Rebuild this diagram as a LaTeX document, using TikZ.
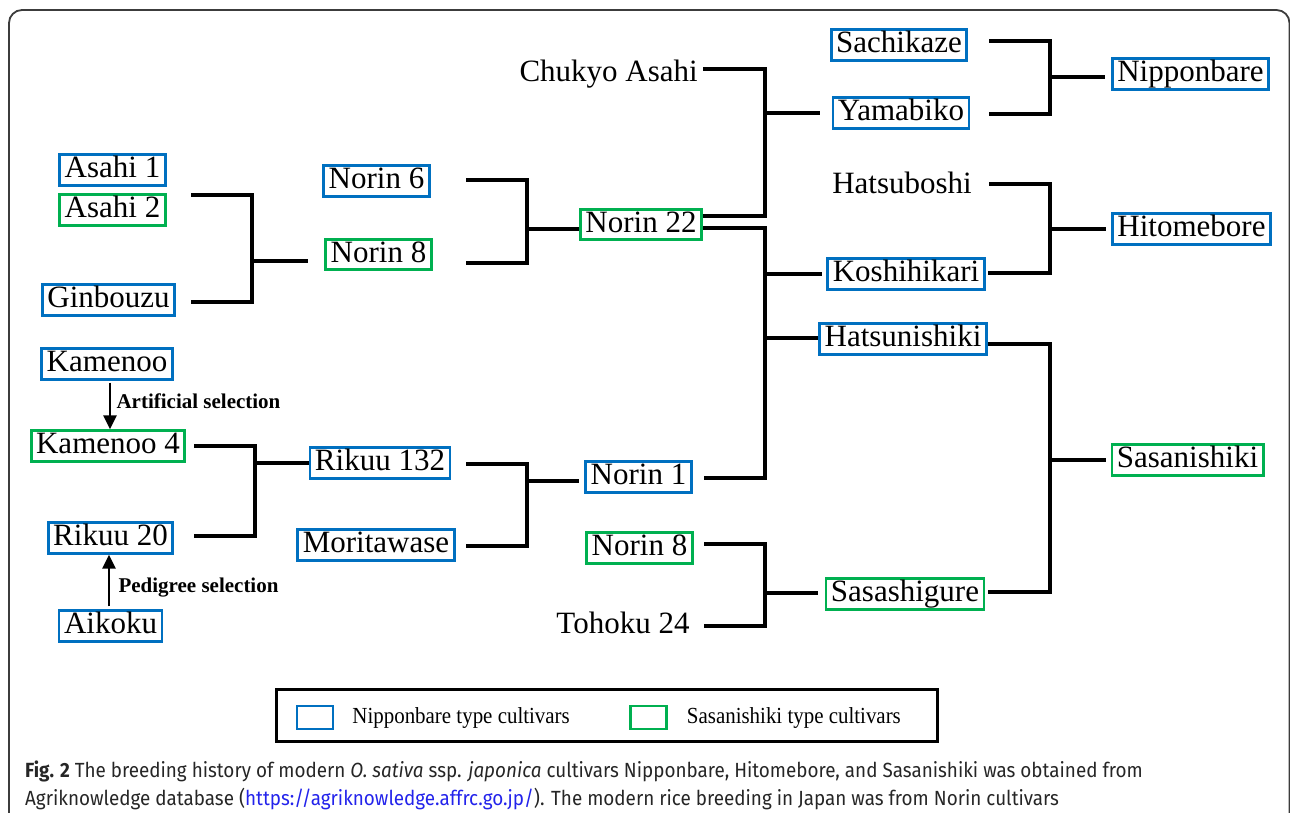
\documentclass[tikz,border=0pt]{standalone}
\usepackage{fontspec}
\setmainfont{Liberation Serif}
\newfontfamily\captionfont{Fira Sans}
\usetikzlibrary{arrows.meta,positioning}
\definecolor{nip blue}{RGB}{0,112,192}
\definecolor{sas green}{RGB}{0,176,80}
\definecolor{url blue}{RGB}{35,35,235}
\definecolor{frame gray}{RGB}{60,60,60}
\colorlet{caption text}{black!85}
\def\namefont{\fontsize{31}{36}\selectfont}
\def\notefont{\fontsize{21}{24}\selectfont}
\def\keyfont{\fontsize{23}{26}\selectfont}
\def\capfont{\captionfont\fontsize{20.5}{24}\selectfont}
\tikzset{cultivar/.style={inner xsep=5pt, inner ysep=1pt, text height=22pt, text depth=6.5pt, font=\namefont},
    nip/.style={cultivar, draw=nip blue, line width=2.8pt},
    sas/.style={cultivar, draw=sas green, line width=2.8pt},
    pedline/.style={draw=black, line width=3.1pt},
    selarrow/.style={line width=2.6pt, -{Triangle[width=13pt,length=14pt]}},
    keybox/.style={line width=2.5pt, minimum width=36pt, minimum height=23pt, inner sep=0pt},
    captext/.style={font=\capfont, text=caption text, anchor=base west, inner sep=0pt, xscale=0.92}}

\begin{document}
\begin{tikzpicture}[x=1pt, y=-1pt]
    \clip (0,0) rectangle (1290,812);
    \draw[frame gray, line width=1.8pt, rounded corners=13pt] (9,10) rectangle (1289.5,860);

    % first generation
    \node[nip] (asahiA)   at (112.5,170) {Asahi 1};
    \node[sas] (asahiB)   at (112.5,210) {Asahi 2};
    \node[nip] (ginbouzu) at (108.5,300) {Ginbouzu};
    \node[nip] (kamenoo)  at (107,364)   {Kamenoo};
    \node[sas] (kamenooD) at (108,446)   {Kamenoo 4};
    \node[nip] (rikuuTw)  at (110.5,538) {Rikuu 20};
    \node[nip] (aikoku)   at (110.5,626) {Aikoku};

    % second and third generation
    \node[nip] (norinF)     at (376.5,181) {Norin 6};
    \node[sas] (norinE)     at (378.5,254.5) {Norin 8};
    \node[nip] (rikuuOTT)   at (380,463)   {Rikuu 132};
    \node[nip] (moritawase) at (376,545)   {Moritawase};
    \node[sas] (norinTT)    at (641,224.5) {Norin 22};
    \node[nip] (norinA)     at (638.5,477) {Norin 1};
    \node[sas] (norinEb)    at (639.5,548) {Norin 8};
    \node[cultivar, anchor=east] (chukyo) at (703,74) {Chukyo Asahi};
    \node[cultivar] (tohoku) at (623,626) {Tohoku 24};

    % fourth generation
    \node[nip] (sachikaze)    at (899,45)  {Sachikaze};
    \node[nip] (yamabiko)     at (901,113) {Yamabiko};
    \node[cultivar] (hatsuboshi) at (902,186) {Hatsuboshi};
    \node[nip] (koshihikari)  at (906,274) {Koshihikari};
    \node[nip] (hatsunishiki) at (903,339) {Hatsunishiki};
    \node[sas] (sasashigure)  at (905,594) {Sasashigure};

    % modern cultivars
    \node[nip] (nipponbare)  at (1190.5,74)  {Nipponbare};
    \node[nip] (hitomebore)  at (1191.5,229) {Hitomebore};
    \node[sas] (sasanishiki) at (1187.5,460) {Sasanishiki};

    % selections
    \draw[selarrow] (kamenoo.south) ++(3,2) coordinate (kamenoo-out) -- (kamenoo-out |- kamenooD.north);
    \draw[selarrow] (aikoku.north) ++(-1.5,-3) coordinate (aikoku-out) -- (aikoku-out |- rikuuTw.south);
    \node[font=\notefont\bfseries, anchor=west] (artsel) at (113,401) {Artificial selection};
    \node[font=\notefont\bfseries, anchor=west] (pedsel) at (115,588) {Pedigree selection};

    % crosses
    \coordinate (asahi-out)    at (191,195);
    \coordinate (ginbouzu-out) at (191,302);
    \coordinate (jNorinE)      at (252,261);
    \draw[pedline] (asahi-out) -| (jNorinE) |- (ginbouzu-out);
    \draw[pedline, shorten >=16pt] (jNorinE) -- (jNorinE -| norinE.west);

    \coordinate (kamenooD-out) at (194,446);
    \coordinate (rikuuTw-out)  at (194,536);
    \coordinate (jRikuu)       at (255,463);
    \draw[pedline] (kamenooD-out) -| (jRikuu) |- (rikuuTw-out);
    \draw[pedline] (jRikuu) -- (jRikuu -| rikuuOTT.west);

    \coordinate (norinF-out) at (466,180);
    \coordinate (norinE-out) at (466,263);
    \coordinate (jNorinTT)   at (527,229);
    \draw[pedline] (norinF-out) -| (jNorinTT) |- (norinE-out);
    \draw[pedline] (jNorinTT) -- (jNorinTT -| norinTT.west);

    \coordinate (rikuuOTT-out)   at (466,464);
    \coordinate (moritawase-out) at (466,546);
    \coordinate (jNorinA)        at (527,481);
    \draw[pedline] (rikuuOTT-out) -| (jNorinA) |- (moritawase-out);
    \draw[pedline, shorten >=5pt] (jNorinA) -- (jNorinA -| norinA.west);

    \coordinate (chukyo-out)   at (703,69);
    \coordinate (norinTT-hi)   at (703,216);
    \coordinate (jYamabiko)    at (765,113);
    \draw[pedline] (chukyo-out) -| (jYamabiko) |- (norinTT-hi);
    \draw[pedline, shorten >=12pt] (jYamabiko) -- (jYamabiko -| yamabiko.west);

    \coordinate (norinTT-lo)   at (703,228);
    \coordinate (norinA-out)   at (704,478);
    \coordinate (jKoshihikari) at (765,274);
    \coordinate (jHatsunishiki) at (765,338);
    \draw[pedline] (norinTT-lo) -| (jKoshihikari) -- (jHatsunishiki) |- (norinA-out);
    \draw[pedline, shorten >=4pt] (jKoshihikari) -- (jKoshihikari -| koshihikari.west);
    \draw[pedline] (jHatsunishiki) -- (jHatsunishiki -| hatsunishiki.west);

    \coordinate (norinEb-out) at (704,544);
    \coordinate (tohoku-out)  at (704,626);
    \coordinate (jSasashigure) at (765,593);
    \draw[pedline] (norinEb-out) -| (jSasashigure) |- (tohoku-out);
    \draw[pedline, shorten >=7pt] (jSasashigure) -- (jSasashigure -| sasashigure.west);

    \coordinate (sachikaze-out) at (989,41);
    \coordinate (yamabiko-out)  at (989,114);
    \coordinate (jNipponbare)   at (1050,77);
    \draw[pedline] (sachikaze-out) -| (jNipponbare) |- (yamabiko-out);
    \draw[pedline, shorten >=6pt] (jNipponbare) -- (jNipponbare -| nipponbare.west);

    \coordinate (hatsuboshi-out)  at (989,184);
    \coordinate (koshihikari-out) at (988,273);
    \coordinate (jHitomebore)     at (1050,229);
    \draw[pedline] (hatsuboshi-out) -| (jHitomebore) |- (koshihikari-out);
    \draw[pedline, shorten >=5pt] (jHitomebore) -- (jHitomebore -| hitomebore.west);

    \coordinate (hatsunishiki-out) at (988,344);
    \coordinate (sasashigure-out)  at (988,592);
    \coordinate (jSasanishiki)     at (1050,460);
    \draw[pedline] (hatsunishiki-out) -| (jSasanishiki) |- (sasashigure-out);
    \draw[pedline, shorten >=5pt] (jSasanishiki) -- (jSasanishiki -| sasanishiki.west);

    % legend
    \node[draw, line width=3pt, minimum width=661pt, minimum height=52pt, inner sep=0pt] (legend) at (606.5,715.5) {};
    \node[keybox, draw=nip blue] (keyNip) at (315,717.5) {};
    \node[keybox, draw=sas green] (keySas) at (648.5,717.5) {};
    \node[font=\keyfont, right=18pt of keyNip, inner sep=0pt, xscale=0.91] (keyNipText) {Nipponbare type cultivars};
    \node[font=\keyfont, right=19pt of keySas, inner sep=0pt, xscale=0.91] (keySasText) {Sasanishiki type cultivars};

    % caption
    \node[captext] (capA) at (25,777)
      {\textbf{Fig. 2} The breeding history of modern \textit{O. sativa} ssp. \textit{japonica} cultivars Nipponbare, Hitomebore, and Sasanishiki was obtained from};
    \node[captext] (capB) at (25,805)
      {Agriknowledge database ({\color{url blue}https://agriknowledge.affrc.go.jp/}). The modern rice breeding in Japan was from Norin cultivars};
\end{tikzpicture}
\end{document}
